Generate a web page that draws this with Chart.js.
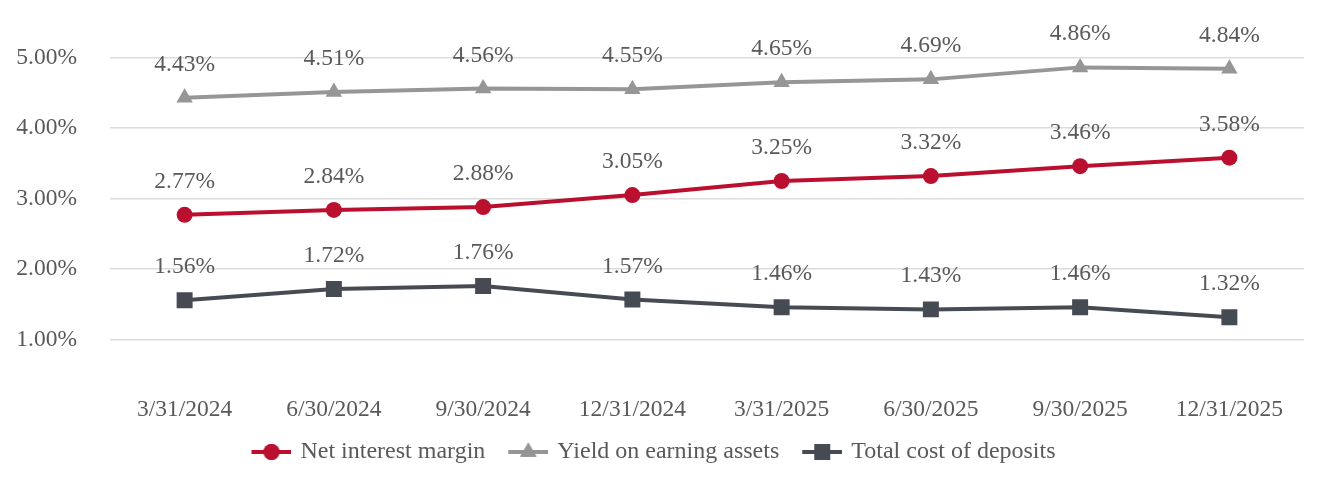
<!DOCTYPE html>
<html>
<head>
<meta charset="utf-8">
<style>
  html, body { margin: 0; padding: 0; background: #fff; }
  #wrap { width: 1324px; height: 480px; }
</style>
<script src="https://cdn.jsdelivr.net/npm/chart.js@4/dist/chart.umd.min.js"></script>
</head>
<body>
<div id="wrap"><canvas id="rates" width="1324" height="480"></canvas></div>
<script>
const quarters = ['3/31/2024', '6/30/2024', '9/30/2024', '12/31/2024', '3/31/2025', '6/30/2025', '9/30/2025', '12/31/2025'];
const netInterestMargin = [2.77, 2.84, 2.88, 3.05, 3.25, 3.32, 3.46, 3.58];
const yieldOnAssets = [4.43, 4.51, 4.56, 4.55, 4.65, 4.69, 4.86, 4.84];
const costOfDeposits = [1.56, 1.72, 1.76, 1.57, 1.46, 1.43, 1.46, 1.32];
const yTicks = [1, 2, 3, 4, 5];

const textColor = '#595959';
const fontFamily = '"Liberation Serif", "Times New Roman", serif';
const red = '#BA0F2E';
const grey = '#969696';
const slate = '#464B53';

Chart.defaults.font.family = fontFamily;
Chart.defaults.font.size = 23.5;
Chart.defaults.color = textColor;

// little "line with marker" swatch like the Excel legend (6px blank on the left for item spacing)
function swatch(color, style, r) {
  const c = document.createElement('canvas');
  c.width = 46;
  c.height = 22;
  const ctx = c.getContext('2d');
  ctx.strokeStyle = color;
  ctx.lineWidth = 4;
  ctx.beginPath();
  ctx.moveTo(6, 11);
  ctx.lineTo(46, 11);
  ctx.stroke();
  ctx.fillStyle = color;
  Chart.helpers.drawPoint(ctx, { pointStyle: style, radius: r, borderWidth: 0 }, 26, 11);
  ctx.fill();
  return c;
}

const valueLabels = {
  id: 'valueLabels',
  afterDatasetsDraw(chart) {
    const ctx = chart.ctx;
    ctx.save();
    ctx.font = '23.5px ' + fontFamily;
    ctx.fillStyle = textColor;
    ctx.textAlign = 'center';
    ctx.textBaseline = 'alphabetic';
    chart.data.datasets.forEach((ds, i) => {
      chart.getDatasetMeta(i).data.forEach((pt, j) => {
        ctx.fillText(ds.data[j].toFixed(2) + '%', pt.x, pt.y - 27);
      });
    });
    ctx.restore();
  }
};

new Chart(document.getElementById('rates'), {
  type: 'line',
  data: {
    labels: quarters,
    datasets: [
      {
        label: 'Net interest margin',
        data: netInterestMargin,
        borderColor: red,
        backgroundColor: red,
        borderWidth: 4,
        pointStyle: 'circle',
        pointRadius: 8,
        pointHoverRadius: 8,
        pointBorderWidth: 0,
        tension: 0
      },
      {
        label: 'Yield on earning assets',
        data: yieldOnAssets,
        borderColor: grey,
        backgroundColor: grey,
        borderWidth: 4,
        pointStyle: 'triangle',
        pointRadius: 9.5,
        pointHoverRadius: 9.5,
        pointBorderWidth: 0,
        tension: 0
      },
      {
        label: 'Total cost of deposits',
        data: costOfDeposits,
        borderColor: slate,
        backgroundColor: slate,
        borderWidth: 4,
        pointStyle: 'rect',
        pointRadius: 11.3,
        pointHoverRadius: 11.3,
        pointBorderWidth: 0,
        tension: 0
      }
    ]
  },
  options: {
    responsive: false,
    animation: false,
    devicePixelRatio: 1,
    layout: { padding: { top: 57.5, right: 20, left: 0, bottom: 6 } },
    plugins: {
      tooltip: { enabled: false },
      legend: {
        position: 'bottom',
        labels: {
          usePointStyle: true,
          pointStyleWidth: 40,
          padding: 20,
          color: textColor,
          font: { size: 24 },
          generateLabels(chart) {
            const marks = [['circle', 8], ['triangle', 9.5], ['rect', 11.3]];
            return chart.data.datasets.map((ds, i) => ({
              text: ds.label,
              datasetIndex: i,
              fillStyle: ds.borderColor,
              strokeStyle: ds.borderColor,
              lineWidth: 0,
              hidden: false,
              fontColor: textColor,
              pointStyle: swatch(ds.borderColor, marks[i][0], marks[i][1])
            }));
          }
        }
      }
    },
    scales: {
      x: {
        offset: true,
        grid: { display: false, drawTicks: false },
        border: { display: false },
        ticks: { padding: 21, maxRotation: 0, color: textColor },
        afterFit(scale) { scale.height = 45; }
      },
      y: {
        min: 0.5,
        max: 5,
        afterBuildTicks(scale) { scale.ticks = yTicks.map(v => ({ value: v })); },
        afterFit(scale) { scale.width = 110; },
        grid: { color: '#DCDCDC', lineWidth: 1.5, drawTicks: false },
        border: { display: false },
        ticks: {
          padding: 33,
          color: textColor,
          callback: v => v.toFixed(2) + '%'
        }
      }
    }
  },
  plugins: [valueLabels]
});
</script>
</body>
</html>
